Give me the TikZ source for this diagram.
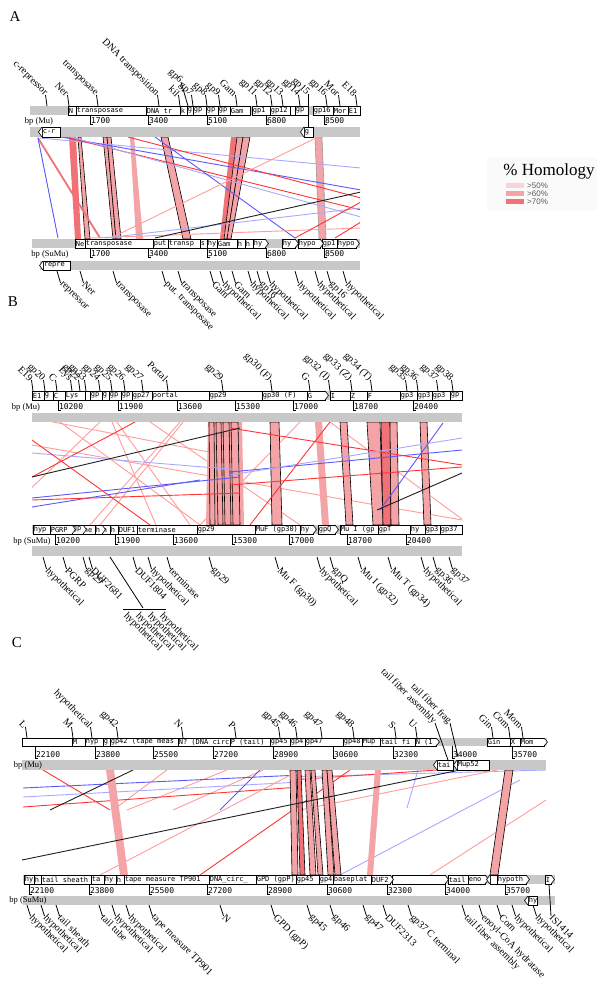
\documentclass[tikz,border=0pt]{standalone}
\usepackage{fontspec}
\setmainfont{Liberation Serif}
\newfontfamily\monof{DejaVu Sans Mono}
\newfontfamily\legf{Liberation Sans}
\definecolor{barg}{HTML}{C8C8C8}
\definecolor{cL}{HTML}{F9D3D6}
\definecolor{cP}{HTML}{F4A3A6}
\definecolor{cR}{HTML}{F07276}
\definecolor{lR}{HTML}{FF3434}
\definecolor{lP}{HTML}{FF9C9C}
\definecolor{lB}{HTML}{5A5AFF}
\definecolor{lLB}{HTML}{A9A9FF}
\definecolor{lK}{HTML}{202020}
\tikzset{
 lab/.style={font=\fontsize{10}{10}\selectfont, inner sep=0.3pt, rotate=-45},
 toplab/.style={lab, anchor=east},
 botlab/.style={lab, anchor=west},
 gtxt/.style={font=\monof\fontsize{7}{8}\selectfont, anchor=west, inner sep=0.6pt},
 rnum/.style={font=\monof\fontsize{8}{8}\selectfont, anchor=west, inner sep=0pt},
 gbox/.style={draw=black, line width=0.6pt},
 bpl/.style={font=\fontsize{8.5}{9}\selectfont, inner sep=0pt},
 panel/.style={font=\fontsize{15}{15}\selectfont, inner sep=0pt},
 lline/.style={line width=0.8pt},
 legt/.style={font=\legf\fontsize{8}{8}\selectfont, text=black!65, anchor=west, inner sep=0pt},
}
\newcommand\generow[3]{%
  \foreach \ga/\gb/\gt in {#3}{%
    \begin{scope}
      \clip (\ga,#1) rectangle (\gb,#2);
      \fill[white] (\ga,#1) rectangle (\gb,#2);
      \node[gtxt] at (\ga,{(#1+#2)/2}) {\gt};
    \end{scope}
    \draw[gbox] (\ga,#1) rectangle (\gb,#2);
  }}
\newcommand\rtips[3]{\foreach \gx in {#3}{\draw[gbox,fill=white] (\gx,#1) -- (\gx+3.5,{(#1+#2)/2}) -- (\gx,#2);}}
\newcommand\ltips[3]{\foreach \gx in {#3}{\draw[gbox,fill=white] (\gx,#1) -- (\gx-3.5,{(#1+#2)/2}) -- (\gx,#2);}}
\newcommand\ruler[3]{\foreach \rx/\rn in {#3}{\draw[line width=0.5pt] (\rx,#1) -- (\rx,#2+3.5) -- (\rx+3,#2+3.5); \node[rnum] at (\rx+0.8,#2) {\rn};}}
\newcommand\toplabels[4]{\foreach[count=\lk] \lx/\lt in {#3}{\node[toplab] (#4\lk) at (\lx-1.5,#1) {\lt}; \draw[lline] (#4\lk.east) -- (\lx,#2);}}
\newcommand\botlabels[4]{\foreach[count=\lk] \lx/\lt in {#3}{\coordinate (#4c\lk) at (\lx,#1); \node[botlab] (#4\lk) at (\lx+3.5,#2+1) {\lt}; \draw[lline] (#4c\lk) -- (#4\lk.west);}}
\newcommand\bands[3]{\foreach \ba/\bb/\bc/\bd/\bfc/\boc in {#3}{\path[fill=\bfc,draw=\boc,line width=0.6pt] (\ba,#1) -- (\bb,#1) -- (\bd,#2) -- (\bc,#2) -- cycle;}}
\newcommand\hlines[1]{\foreach \ha/\hb/\hc/\hd/\hcol in {#1}{\draw[draw=\hcol,line width=0.9pt] (\ha,\hb) -- (\hc,\hd);}}
\begin{document}
\begin{tikzpicture}[x=1pt,y=-1pt]
\fill[white] (0,0) rectangle (600,987);
\useasboundingbox (0,0) rectangle (600,987);
% ================= PANEL A =================
\node[panel] (pA) at (15,17) {A};
\begin{scope}
\clip (30,137) rectangle (360,239);
\bands{137}{239}{69/76/75/81/cR/none, 78/81/85/90/cP/black, 103/107/113/116/cP/black, 107/111/116/121/cP/black, 130/134/136/143/cP/none, 161/168/183/191/cP/black, 231/237/220/224/cR/none, 237/243/224/227/cP/black, 243/250/227/231/cP/black, 315/322/319/326/cP/black!40}
\draw[cR, line width=1.8pt] (38,138) -- (100,238);
\hlines{38/138/58/238/lB, 40/138/361/168/lLB, 61/137/361/190/lB, 65/137/361/210/lR, 71/137/361/217/lLB, 128/137/361/198/lR, 155/137/295/238/lB, 318/137/111/238/lP, 90/238/361/228/lP, 105/238/361/208/lLB, 155/238/361/192/lK, 295/238/361/202/lR, 335/238/361/222/lR}
\end{scope}
\fill[barg] (30,106) rectangle (360,115);
\generow{106}{115}{68/76/N,76/146/transposase,146/180/DNA tr,180/187/k,187/193/g,193/206/gp,206/218/gp,218/230/gp,230/250/Gam,252/270/gp1,270/290/gp12,290/295/{ },295/308/gp,313/333/gp16,333/348/Mor,348/360/E1}
\ruler{115}{121}{90/1700,148/3400,207/5100,266/6800,324/8500}
\node[bpl] (bpA1) at (39,121) {bp (Mu)};
\fill[barg] (30,127) rectangle (360,137);
\generow{127}{137}{42/60/c-r,304/313/g}
\ltips{127}{137}{42,304}
\toplabels{95}{106}{47/c-repressor,69/Ner,98/transposase,159/DNA transposition,180/kil,193/gp7,207/gp8,220/gp9,237/Gam,257/gp11,272/gp12,283/gp13,300/gp14,327/gp16,340/Mor,357/E18}{ta}
\node[toplab] (ta6) at (181,82) {gp6}; \draw[lline] (ta6.east) -- (188,106);
\node[toplab] (ta15) at (308,94) {gp15}; \draw[lline] (ta15.east) -- (308,127);
% SuMu
\fill[barg] (32,239) rectangle (360,248);
\generow{239}{248}{75/85/Ne,85/153/transposase,153/168/put,168/200/transp,200/207/s,207/217/hy,217/237/Gam,237/245/h,245/253/h,253/265/hy,282/295/hy,298/320/hypo,322/337/gp1,337/356/hypo}
\rtips{239}{248}{265,295,320,356}
\ruler{248}{254}{90/1700,148/3400,207/5100,266/6800,324/8500}
\node[bpl] (bpA2) at (50,254) {bp (SuMu)};
\fill[barg] (40,261) rectangle (360,270);
\generow{261}{270}{43/70/repre}
\ltips{261}{270}{43}
\botlabels{271}{282}{57/repressor,80/Ner,113/transposase,162/put. transposase,178/transposase,210/Gam,220/hypothetical,232/Gam,248/hypothetical,257/gp16,267/hypothetical,295/hypothetical,315/hypothetical,327/gp16,343/hypothetical}{ba}
% legend
\fill[black!2] (487,158) rectangle (597,210);
\node[font=\fontsize{17}{17}\selectfont, inner sep=0pt] (leg) at (549,171) {\% Homology};
\fill[cL] (506,183) rectangle (524,188); \node[legt] (l50) at (527,186) {>50\%};
\fill[cP] (506,191) rectangle (524,196); \node[legt] (l60) at (527,194) {>60\%};
\fill[cR] (506,199) rectangle (524,204); \node[legt] (l70) at (527,202) {>70\%};
% ================= PANEL B =================
\node[panel] (pB) at (13,302) {B};
\begin{scope}
\clip (32,422) rectangle (462,525);
\hlines{112/422/156/525/lP, 100/422/-7/525/lP, 150/422/300/525/lP, 60/422/200/525/lP, 180/422/90/525/lP, 300/422/200/525/lP, 330/422/470/525/lP, 32/445/462/520/lP, 53/422/240/458/lP, 117/422/190/525/lP, 183/422/100/525/lP}
\bands{422}{525}{208/242/206/244/cP/none, 209/214/210/215/cP/black, 216/221/218/223/cP/black, 223/229/225/231/cP/black, 231/238/233/240/cP/black, 270/279/272/282/cP/black, 315/322/322/329/cP/none, 340/347/346/353/cP/black, 367/380/373/383/cP/black, 381/390/383/391/cR/black, 390/397/391/399/cP/black, 420/427/424/431/cP/black}
\hlines{32/477/135/422/lR, 32/453/240/470/lLB, 32/498/240/477/lB, 32/507/200/480/lB, 32/500/240/493/lR, 230/428/462/465/lR, 230/472/462/450/lB, 230/475/462/438/lLB, 230/485/462/467/lR, 443/423/380/510/lB, 32/477/240/428/lK, 377/510/462/473/lK, 250/525/330/422/lR, 150/525/32/440/lR}
\end{scope}
\fill[barg] (32,391) rectangle (462,400);
\generow{391}{400}{32/44/E1,44/53/g,53/65/C,65/85/Lys,85/90/{ },90/102/gp,102/109/g,109/121/gp,121/132/gp,132/152/gp27,152/209/portal,209/262/gp29,262/307/gp30 (F),307/325/G,330/350/I,350/367/Z,367/400/F,400/417/gp3,417/432/gp3,432/450/gp3,450/462/gp}
\rtips{391}{400}{325}
\ruler{400}{407}{58/10200,118/11900,177/13600,235/15300,293/17000,353/18700,413/20400}
\node[bpl] (bpB1) at (26,407) {bp (Mu)};
\fill[barg] (32,413) rectangle (462,422);
\toplabels{380}{391}{33/E19,45/gp20,57/C,72/Lys,80/gp22,86/gp23,100/gp24,112/gp25,125/gp26,143/gp27,168/Portal,223/gp29,272/gp30 (F),310/G,330/gp32 (I),352/gp33 (Z),372/gp34 (T),407/gp35,418/gp36,438/gp37,453/gp38}{tb}
\fill[barg] (32,525) rectangle (462,534);
\generow{525}{534}{33/50/hyp,50/72/PGRP,72/83/gp,83/95/he,95/102/h,102/110/h,110/118/h,118/137/DUF1,137/197/terminase,197/255/gp29,255/300/MuF (gp30),300/313/hy,318/335/gpQ,340/378/Mu I (gp,378/410/gpT,410/425/hy,425/440/gp3,440/462/gp37}
\rtips{525}{534}{72,83,102,313,335}
\ruler{534}{541}{55/10200,115/11900,173/13600,232/15300,289/17000,347/18700,406/20400}
\node[bpl] (bpB2) at (32,541) {bp (SuMu)};
\fill[barg] (32,546) rectangle (462,556);
\botlabels{557}{568}{43/hypothetical,63/PGRP,83/gp29,89/DUF2681,133/DUF1804,148/hypothetical,167/terminase,209/gp29,275/Mu F (gp30),317/hypothetical,330/gpQ,358/Mu I (gp32),388/Mu T (gp34),421/hypothetical,433/gp36,449/gp37}{bb}
\coordinate (fan0) at (110,557); \coordinate (fan1) at (143,608);
\draw[lline] (fan0) -- (fan1);
\coordinate (fanL) at (123,609); \coordinate (fanR) at (166,609);
\draw[line width=1pt] (fanL) -- (fanR);
\foreach[count=\fk] \fx in {125,137,149,161}{\node[botlab] (fh\fk) at (\fx,614) {hypothetical};}
% ================= PANEL C =================
\node[panel] (pC) at (17,643) {C};
\begin{scope}
\clip (22,770) rectangle (555,875);
\hlines{43/770/110/810/lR, 167/770/113/810/lP, 227/770/127/810/lP, 263/770/173/810/lP, 23/788/300/775/lB, 23/797/300/782/lLB, 23/807/300/787/lR, 260/770/220/810/lB, 290/777/546/770/lLB, 407/808/418/770/lLB, 290/780/437/770/lR, 300/810/497/770/lP, 100/875/300/770/lP, 200/875/350/770/lR, 340/875/520/780/lLB, 430/875/546/800/lP}
\bands{770}{875}{106/114/120/128/cP/none, 290/296/292/298/cP/black, 297/301/300/305/cR/black, 305/310/310/316/cP/black, 311/315/318/323/cP/black, 322/327/328/334/cP/black, 327/332/335/341/cP/black, 375/381/367/373/cP/none, 505/513/490/498/cP/black}
\hlines{133/770/50/810/lK, 460/770/22/860/lK}
\end{scope}
\fill[barg] (22,738) rectangle (547,746);
\generow{738}{746}{22/72/{ },72/85/M,85/103/hyp,103/110/g,110/178/gp42 (tape meas,178/230/N? (DNA circ,230/270/P (tail),270/290/gp45,290/305/gp4,305/343/gp47,343/362/gp48,362/380/Mup,380/415/tail fi,415/436/N (1,487/510/Gin,510/520/X,520/544/Mom}
\rtips{738}{746}{436,544}
\ruler{746}{755}{35/22100,95/23800,153/25500,213/27200,273/28900,333/30600,393/32300,452/34000,512/35700}
\fill[barg] (22,760) rectangle (546,770);
\node[bpl] (bpC1) at (28,765) {bp (Mu)};
\generow{760}{770}{437/453/tai,457/489/Mup52}
\ltips{760}{770}{437,457}
\toplabels{727}{738}{27/L,73/M,92/hypothetical,118/gp42,183/N,236/P,280/gp45,297/gp46,322/gp47,354/gp48,396/S,417/U,493/Gin,510/Com,523/Mom}{tc}
\node[toplab] (tcA) at (435,723) {tail fiber assembly}; \draw[lline] (tcA.east) -- (448,760);
\node[toplab] (tcF) at (450,723) {tail fiber frag}; \draw[lline] (tcF.east) -- (458,757);
\fill[barg] (23,875) rectangle (555,884);
\generow{875}{884}{24/34/hy,34/41/h,41/91/tail sheath,91/104/ta,104/116/hy,116/124/h,124/209/tape measure TP901,209/256/DNA\_circ\_,256/296/GPD (gpP),296/319/gp45,319/333/gp4,333/371/baseplat,371/390/DUF2,392/445/{ },448/468/tail,468/485/eno,490/497/{ },497/526/hypoth,545/551/I}
\rtips{875}{884}{390,445,485,526,551}
\ltips{875}{884}{490}
\ruler{884}{891}{29/22100,89/23800,149/25500,207/27200,267/28900,327/30600,387/32300,445/34000,505/35700}
\fill[barg] (23,896) rectangle (555,905);
\node[bpl] (bpC2) at (28,900) {bp (SuMu)};
\generow{896}{905}{528/537/hy}
\ltips{896}{905}{528}
\botlabels{905}{915}{27/hypothetical,41/hypothetical,56/tail sheath,99/tail tube,112/hypothetical,126/hypothetical,149/tape measure TP901,220/N,271/GPD (gpP),307/gp45,330/gp46,363/gp47,383/DUF2313,408/gp37 C terminal,462/tail fiber assembly,479/enoyl-CoA hydratase,497/Com,512/hypothetical,533/hypothetical}{bc}
\coordinate (isT) at (549,884);
\node[botlab] (isL) at (551,916) {IS1414};
\draw[lline] (isT) -- (isL.west);
\end{tikzpicture}
\end{document}
